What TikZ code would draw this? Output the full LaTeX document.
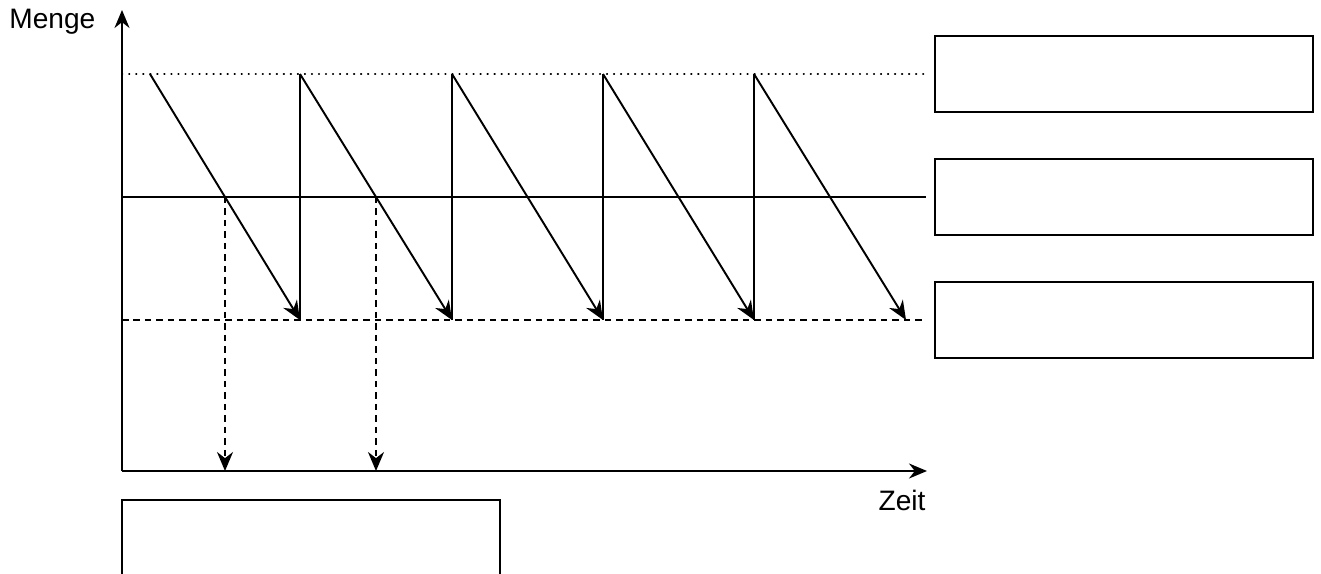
\documentclass[tikz,border=0pt]{standalone}
\usepackage{fontspec}
\setmainfont{Liberation Sans}
\usepackage{tikz}
\usetikzlibrary{arrows.meta, positioning}

\begin{document}
\begin{tikzpicture}[
    x=0.02cm, y=-0.02cm,
    font=\fontsize{16}{19}\selectfont,
    axis/.style={-{Stealth[length=3.6mm, width=3mm]}, line width=1.3pt},
    arrow/.style={-{Stealth[length=3.8mm, width=3.2mm]}, line width=1.1pt},
    line/.style={line width=1.1pt},
    dashline/.style={line width=1.1pt, dash pattern=on 1.3mm off 1mm},
    dotline/.style={line width=1pt, dash pattern=on 0.3pt off 1.3mm, line cap=round},
    infobox/.style={draw, line width=1.2pt, minimum width=7.56cm, minimum height=1.52cm, inner sep=0pt}
]
    \useasboundingbox (0,0) rectangle (1321,574);
    \clip (0,0) rectangle (1321,574);

    % axes
    \coordinate (origin) at (122,471);
    \coordinate (ytip) at (122,10);
    \coordinate (xtip) at (927,471);
    \draw[axis] (origin) -- (ytip);
    \draw[axis] (origin) -- (xtip);
    \node[anchor=base west, inner sep=0pt] (menge) at (9,29) {Menge};
    \node[anchor=base] (zeit) at (902,510) {Zeit};

    % levels
    \coordinate (maxl) at (122,74);
    \coordinate (maxr) at (926,74);
    \coordinate (meldl) at (122,197);
    \coordinate (meldr) at (926,197);
    \coordinate (sichl) at (122,320);
    \coordinate (sichr) at (926,320);
    \draw[dotline] (maxl) -- (maxr);
    \draw[line] (meldl) -- (meldr);
    \draw[dashline] (sichl) -- (sichr);

    % sawtooth
    \coordinate (t0) at (150,74);
    \coordinate (t1) at (300,74);
    \coordinate (t2) at (452,74);
    \coordinate (t3) at (603,74);
    \coordinate (t4) at (754,74);
    \coordinate (b1) at (300,320);
    \coordinate (b2) at (452,320);
    \coordinate (b3) at (603,320);
    \coordinate (b4) at (754,320);
    \coordinate (b5) at (906,320);
    \draw[arrow] (t0) -- (b1);
    \draw[line] (b1) -- (t1);
    \draw[arrow] (t1) -- (b2);
    \draw[line] (b2) -- (t2);
    \draw[arrow] (t2) -- (b3);
    \draw[line] (b3) -- (t3);
    \draw[arrow] (t3) -- (b4);
    \draw[line] (b4) -- (t4);
    \draw[arrow] (t4) -- (b5);

    % order points
    \coordinate (c1) at (225,197);
    \coordinate (c2) at (376,197);
    \coordinate (a1) at (225,471);
    \coordinate (a2) at (376,471);
    \draw[arrow, dash pattern=on 1.3mm off 1mm] (c1) -- (a1);
    \draw[arrow, dash pattern=on 1.3mm off 1mm] (c2) -- (a2);

    % boxes
    \node[infobox] (maxbox) at (1124,74) {};
    \node[infobox] (meldbox) at (1124,197) {};
    \node[infobox] (sichbox) at (1124,320) {};
    \node[infobox, minimum height=1.8cm] (zeitbox) at (311,545) {};
\end{tikzpicture}
\end{document}
